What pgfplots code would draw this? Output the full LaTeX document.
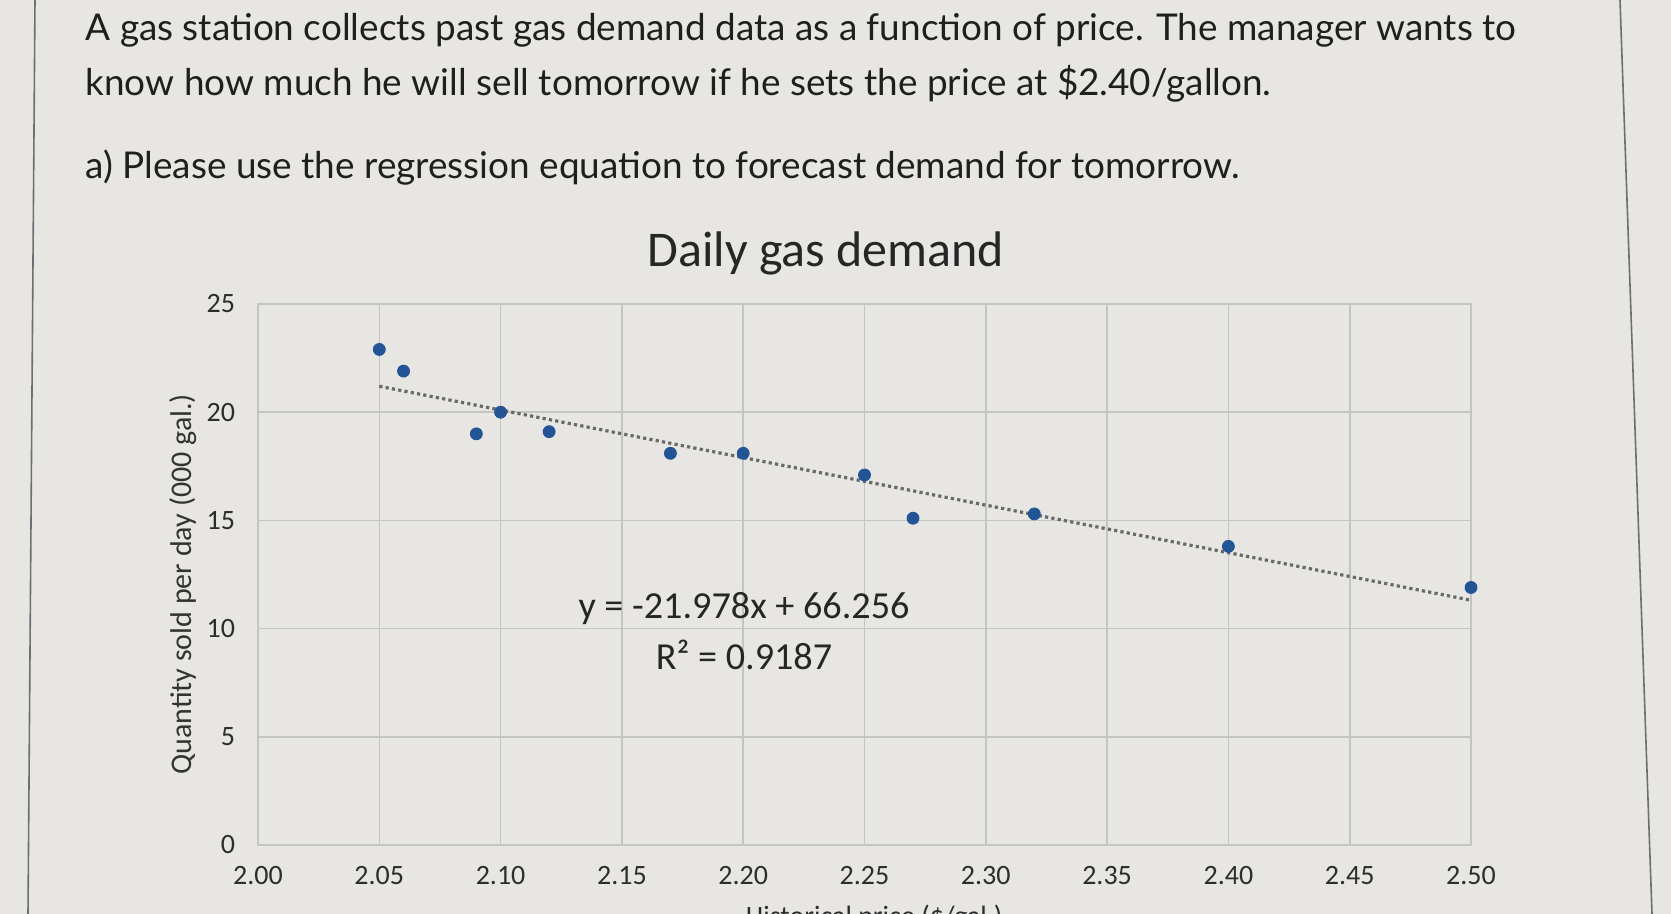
\documentclass[border=0pt]{standalone}
\usepackage{pgfplots}
\pgfplotsset{compat=1.18}
\usepackage{fontspec}
\setmainfont{Carlito}
\newfontfamily\calibri{Carlito}
\newfontfamily\lato{Lato}
\definecolor{bg}{RGB}{231,230,226}
\definecolor{gridc}{RGB}{196,196,193}
\definecolor{ptblue}{RGB}{34,84,150}
\definecolor{trend}{RGB}{105,105,105}
\definecolor{txt}{RGB}{45,45,45}
\definecolor{edge}{RGB}{110,110,118}
\pgfplotstableread{
x y
2.05 22.9
2.06 21.9
2.09 19.0
2.10 20.0
2.12 19.1
2.17 18.1
2.20 18.1
2.25 17.1
2.27 15.1
2.32 15.3
2.40 13.8
2.50 11.9
}\demand
\begin{document}
\begin{tikzpicture}
\fill[bg] (0,0) rectangle (835.5bp,457bp);
\useasboundingbox (0,0) rectangle (835.5bp,457bp);
\draw[edge, line width=0.8bp] (17.5bp,457bp) -- (14bp,0);
\draw[edge, line width=0.8bp] (810bp,457bp) -- (826bp,0);
\node[anchor=base west, font=\lato\fontsize{18.45bp}{22bp}\selectfont, text=black!88, inner sep=0] at (42.6bp,436.7bp) {A gas station collects past gas demand data as a function of price. The manager wants to};
\node[anchor=base west, font=\lato\fontsize{18.45bp}{22bp}\selectfont, text=black!88, inner sep=0] at (42.6bp,409bp) {know how much he will sell tomorrow if he sets the price at \$2.40/gallon.};
\node[anchor=base west, font=\lato\fontsize{18.45bp}{22bp}\selectfont, text=black!88, inner sep=0] at (42.6bp,367.5bp) {a) Please use the regression equation to forecast demand for tomorrow.};
\node[font=\calibri\fontsize{25bp}{30bp}\selectfont, text=black!85] at (413bp,330.5bp) {Daily gas demand};
\begin{axis}[
  at={(129bp,34.5bp)}, anchor=south west,
  scale only axis, width=606.5bp, height=270.5bp,
  xmin=2, xmax=2.5, ymin=0, ymax=25,
  xtick={2.00,2.05,2.10,2.15,2.20,2.25,2.30,2.35,2.40,2.45,2.50},
  ytick={0,5,10,15,20,25},
  /pgf/number format/assume math mode=true,
  x tick label style={/pgf/number format/fixed,/pgf/number format/fixed zerofill,/pgf/number format/precision=2, yshift=-7bp},
  y tick label style={xshift=-8bp},
  tick label style={font=\calibri\fontsize{14bp}{16bp}\selectfont, text=txt},
  grid=major, major grid style={gridc, line width=0.8bp},
  axis line style={gridc, line width=0.8bp},
  major tick length=0pt,
  axis background/.style={fill=bg},
  clip=false,
  ylabel={Quantity sold per day (000 gal.)},
  ylabel style={font=\calibri\fontsize{15bp}{18bp}\selectfont, text=black!80, at={(axis description cs:-0.0615,0.482)}, anchor=center},
]
\addplot[trend, line width=1.6bp, dash pattern=on 1.6bp off 1.6bp] coordinates {(2.05,21.20) (2.50,11.31)};
\addplot[only marks, mark=*, mark size=3bp, mark options={fill=ptblue, draw=ptblue}] table[x=x,y=y] {\demand};
\node[font=\calibri\fontsize{19.1bp}{22bp}\selectfont, text=black!85] at (axis description cs:0.4007,0.438) {y = -21.978x + 66.256};
\node[font=\calibri\fontsize{19.1bp}{22bp}\selectfont, text=black!85] at (axis description cs:0.4007,0.351) {R² = 0.9187};
\node[font=\calibri\fontsize{14bp}{16bp}\selectfont, text=txt] at (axis description cs:0.508,-0.135) {Historical price (\$/gal.)};
\end{axis}
\end{tikzpicture}
\end{document}
